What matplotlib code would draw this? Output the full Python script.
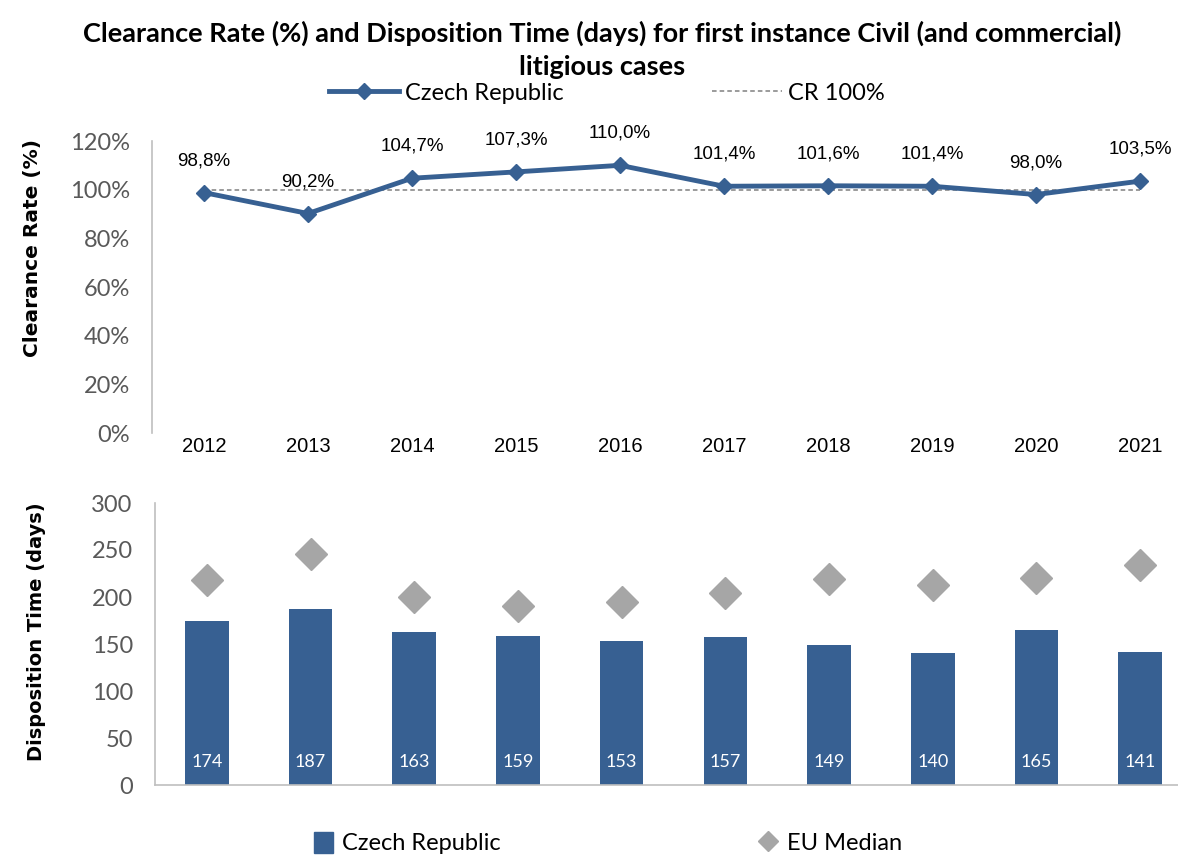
import matplotlib
matplotlib.use("Agg")
import matplotlib.pyplot as plt
from matplotlib.ticker import FuncFormatter
from matplotlib.lines import Line2D
from matplotlib.patches import Patch

years = ['2012', '2013', '2014', '2015', '2016', '2017', '2018', '2019', '2020', '2021']
clearance_rate = [98.8, 90.2, 104.7, 107.3, 110.0, 101.4, 101.6, 101.4, 98.0, 103.5]
cr_target = [100] * len(years)
disposition_time = [174, 187, 163, 159, 153, 157, 149, 140, 165, 141]
eu_median = [218, 246, 200, 190, 195, 204, 219, 213, 220, 234]

BLUE = '#376092'
GREY = '#a6a6a6'
TICK = '#595959'
NARROW = 'Lato'

x = list(range(len(years)))

fig = plt.figure(figsize=(11.78, 8.55), dpi=100)

fig.text(0.511, 1 - 33 / 855, 'Clearance Rate (%) and Disposition Time (days) for first instance Civil (and commercial)',
         ha='center', va='center', fontsize=19.5, fontweight='bold', family=NARROW)
fig.text(0.511, 1 - 67 / 855, 'litigious cases',
         ha='center', va='center', fontsize=19.5, fontweight='bold', family=NARROW)

# top: clearance rate
ax1 = fig.add_axes([152 / 1178, 1 - 433 / 855, 1040 / 1178, (433 - 141) / 855])
ax1.plot(x, cr_target, color='#808080', lw=1.1, ls=(0, (3, 2)), zorder=2)
ax1.plot(x, clearance_rate, color=BLUE, lw=3.5, marker='D', ms=8, zorder=3)
for xi, v in zip(x, clearance_rate):
    ax1.annotate(f'{v:.1f}%'.replace('.', ','), (xi, v), xytext=(0, 23), textcoords='offset points',
                 ha='center', va='center', fontsize=13.5, family='Liberation Sans')
ax1.set_xlim(-0.5, 9.5)
ax1.set_ylim(0, 120)
ax1.set_yticks(range(0, 121, 20))
ax1.yaxis.set_major_formatter(FuncFormatter(lambda v, p: f'{v:.0f}%'))
ax1.set_xticks(x)
ax1.set_xticklabels(years, family='Liberation Sans', fontsize=14.5)
for lab in ax1.get_yticklabels():
    lab.set_family('Lato')
    lab.set_fontsize(17)
    lab.set_color(TICK)
ax1.tick_params(axis='both', length=0)
ax1.tick_params(axis='y', pad=16)
ax1.tick_params(axis='x', pad=3)
for s in ['top', 'right', 'bottom']:
    ax1.spines[s].set_visible(False)
ax1.spines['left'].set_color('#bfbfbf')
ax1.spines['left'].set_linewidth(1.2)

fig.text(33 / 1178, 1 - 248 / 855, 'Clearance Rate (%)', rotation=90, ha='center', va='center',
         fontsize=14.5, fontweight='bold', family='DejaVu Sans')

h1 = Line2D([], [], color=BLUE, lw=3.5, marker='D', ms=8)
h2 = Line2D([], [], color='#808080', lw=1.1, ls=(0, (3, 2)))
fig.legend([h1, h2], ['Czech Republic', 'CR 100%'], loc='center', bbox_to_anchor=(0.515, 1 - 93 / 855),
           ncol=2, frameon=False, handlelength=2.95, columnspacing=6.3, handletextpad=0.25,
           prop={'family': 'Lato', 'size': 17})

# bottom: disposition time
ax2 = fig.add_axes([155 / 1178, 1 - 785 / 855, 1037 / 1178, (785 - 503) / 855])
bars = ax2.bar(x, disposition_time, width=0.42, color=BLUE, zorder=2)
ax2.plot(x, eu_median, ls='none', marker='D', ms=16, color=GREY, zorder=3)
for xi, v in zip(x, disposition_time):
    ax2.text(xi, 25, str(v), ha='center', va='center', color='white', fontsize=13, family='Lato')
ax2.set_xlim(-0.5, 9.5)
ax2.set_ylim(0, 300)
ax2.set_yticks(range(0, 301, 50))
ax2.set_xticks([])
for lab in ax2.get_yticklabels():
    lab.set_family('Lato')
    lab.set_fontsize(17)
    lab.set_color(TICK)
ax2.tick_params(axis='y', length=0, pad=16)
for s in ['top', 'right']:
    ax2.spines[s].set_visible(False)
for s in ['left', 'bottom']:
    ax2.spines[s].set_color('#bfbfbf')
    ax2.spines[s].set_linewidth(1.2)

fig.text(37 / 1178, 1 - 632 / 855, 'Disposition Time (days)', rotation=90, ha='center', va='center',
         fontsize=14, fontweight='bold', family='DejaVu Sans')

h3 = Patch(color=BLUE)
h4 = Line2D([], [], ls='none', marker='D', ms=10, color=GREY)
fig.legend([h3, h4], ['Czech Republic', 'EU Median'], loc='center', bbox_to_anchor=(0.516, 1 - 843 / 855),
           ncol=2, frameon=False, handlelength=0.8, handleheight=1.0, columnspacing=10.9, handletextpad=0.4,
           prop={'family': 'Lato', 'size': 17})

fig.savefig('out.png', dpi=100)
